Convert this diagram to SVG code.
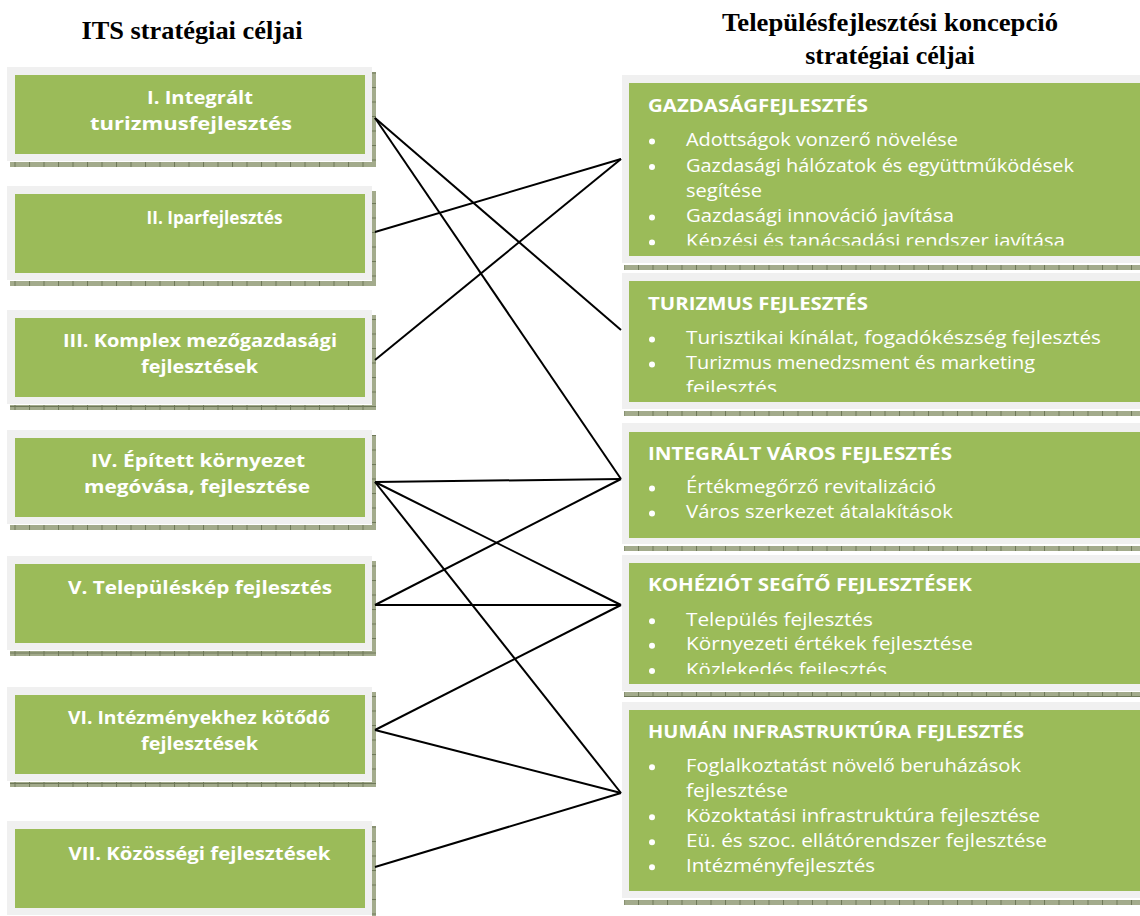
<svg xmlns="http://www.w3.org/2000/svg" width="1140" height="916" viewBox="0 0 1140 916">
<style>
.frame{fill:#f0f0f0}
.green{fill:#9bbb59}
.shadow{fill:url(#tick)}
.hdr{font-family:"Liberation Serif",serif;font-weight:bold;font-size:26px;fill:#000;text-anchor:middle}
.lt{font-family:"Open Sans","DejaVu Sans",sans-serif;font-weight:bold;font-size:18px;fill:#fff;text-anchor:middle}
.rt{font-family:"Open Sans","DejaVu Sans",sans-serif;font-weight:bold;font-size:18px;fill:#fff}
.rb{font-family:"Open Sans","DejaVu Sans",sans-serif;font-size:18px;fill:#fff}
.dot{fill:#fff}
.conn line{stroke:#000;stroke-width:2;fill:none}
</style>
<defs>
<pattern id="tick" patternUnits="userSpaceOnUse" width="14.5" height="14.5">
<rect width="14.5" height="14.5" fill="#a3ab8c"/>
<rect x="0" y="0" width="1" height="14.5" fill="#6e7858"/>
<rect x="0" y="0" width="14.5" height="1" fill="#6e7858"/>
</pattern>
<clipPath id="c1"><rect x="629" y="83" width="520" height="162.5"/></clipPath>
<clipPath id="c2"><rect x="629" y="281" width="520" height="111"/></clipPath>
<clipPath id="c3"><rect x="629" y="432" width="520" height="106"/></clipPath>
<clipPath id="c4"><rect x="629" y="563" width="520" height="111"/></clipPath>
<clipPath id="c5"><rect x="629" y="710" width="520" height="181"/></clipPath>
</defs>
<rect width="1140" height="916" fill="#fff"/>

<text class="hdr" x="192" y="39" textLength="221" lengthAdjust="spacingAndGlyphs">ITS stratégiai céljai</text>
<text class="hdr" x="890" y="31" textLength="336" lengthAdjust="spacingAndGlyphs">Településfejlesztési koncepció</text>
<text class="hdr" x="890" y="64">stratégiai céljai</text>

<!-- Left nodes -->
<g id="its1">
<rect class="shadow" x="10" y="162" width="366" height="5"/><rect class="shadow" x="372" y="72" width="4" height="95"/>
<rect class="frame" x="7" y="67" width="365" height="94"/><rect class="green" x="15" y="75" width="350" height="79"/>
<text class="lt" x="200" y="103.5" textLength="106" lengthAdjust="spacingAndGlyphs">I. Integrált</text>
<text class="lt" x="191" y="129.5" textLength="202" lengthAdjust="spacingAndGlyphs">turizmusfejlesztés</text>
</g>
<g id="its2">
<rect class="shadow" x="10" y="281" width="366" height="5"/><rect class="shadow" x="372" y="191" width="4" height="95"/>
<rect class="frame" x="7" y="186" width="365" height="94"/><rect class="green" x="15" y="194" width="350" height="79"/>
<text class="lt" x="214.5" y="224" textLength="136" lengthAdjust="spacingAndGlyphs">II. Iparfejlesztés</text>
</g>
<g id="its3">
<rect class="shadow" x="10" y="405" width="366" height="5"/><rect class="shadow" x="372" y="315" width="4" height="95"/>
<rect class="frame" x="7" y="310" width="365" height="94"/><rect class="green" x="15" y="318" width="350" height="79"/>
<text class="lt" x="200" y="347" textLength="274" lengthAdjust="spacingAndGlyphs">III. Komplex mezőgazdasági</text>
<text class="lt" x="199.5" y="373" textLength="117" lengthAdjust="spacingAndGlyphs">fejlesztések</text>
</g>
<g id="its4">
<rect class="shadow" x="10" y="525" width="366" height="5"/><rect class="shadow" x="372" y="435" width="4" height="95"/>
<rect class="frame" x="7" y="430" width="365" height="94"/><rect class="green" x="15" y="438" width="350" height="79"/>
<text class="lt" x="198" y="467" textLength="214" lengthAdjust="spacingAndGlyphs">IV. Épített környezet</text>
<text class="lt" x="197" y="493" textLength="226" lengthAdjust="spacingAndGlyphs">megóvása, fejlesztése</text>
</g>
<g id="its5">
<rect class="shadow" x="10" y="651" width="366" height="5"/><rect class="shadow" x="372" y="561" width="4" height="95"/>
<rect class="frame" x="7" y="556" width="365" height="94"/><rect class="green" x="15" y="564" width="350" height="79"/>
<text class="lt" x="200" y="594" textLength="264" lengthAdjust="spacingAndGlyphs">V. Településkép fejlesztés</text>
</g>
<g id="its6">
<rect class="shadow" x="10" y="782" width="366" height="5"/><rect class="shadow" x="372" y="692" width="4" height="95"/>
<rect class="frame" x="7" y="687" width="365" height="94"/><rect class="green" x="15" y="695" width="350" height="79"/>
<text class="lt" x="199" y="724" textLength="262" lengthAdjust="spacingAndGlyphs">VI. Intézményekhez kötődő</text>
<text class="lt" x="199.5" y="750" textLength="117" lengthAdjust="spacingAndGlyphs">fejlesztések</text>
</g>
<g id="its7">
<rect class="shadow" x="372" y="826" width="4" height="95"/>
<rect class="frame" x="7" y="821" width="365" height="94"/><rect class="green" x="15" y="829" width="350" height="79"/>
<text class="lt" x="199.5" y="860" textLength="262" lengthAdjust="spacingAndGlyphs">VII. Közösségi fejlesztések</text>
</g>

<!-- Right nodes -->
<g id="tfk1">
<rect class="shadow" x="624" y="265" width="530" height="5"/>
<rect class="frame" x="622" y="75" width="530" height="188"/><rect class="green" x="629" y="83" width="520" height="173"/>
<text class="rt" x="648" y="111.5" textLength="220" lengthAdjust="spacingAndGlyphs">GAZDASÁGFEJLESZTÉS</text>
<g clip-path="url(#c1)">
<circle class="dot" cx="652" cy="141.5" r="3"/><text class="rb" x="686" y="146" textLength="272" lengthAdjust="spacingAndGlyphs">Adottságok vonzerő növelése</text>
<circle class="dot" cx="652" cy="167" r="3"/><text class="rb" x="686" y="171.5" textLength="388" lengthAdjust="spacingAndGlyphs">Gazdasági hálózatok és együttműködések</text>
<text class="rb" x="686" y="196.7" textLength="76" lengthAdjust="spacingAndGlyphs">segítése</text>
<circle class="dot" cx="652" cy="217.4" r="3"/><text class="rb" x="686" y="221.9" textLength="268" lengthAdjust="spacingAndGlyphs">Gazdasági innováció javítása</text>
<circle class="dot" cx="652" cy="242.6" r="3"/><text class="rb" x="686" y="247.1" textLength="379" lengthAdjust="spacingAndGlyphs">Képzési és tanácsadási rendszer javítása</text>
</g>
</g>
<g id="tfk2">
<rect class="shadow" x="624" y="411" width="530" height="5"/>
<rect class="frame" x="622" y="273" width="530" height="136"/><rect class="green" x="629" y="281" width="520" height="121"/>
<text class="rt" x="648" y="309.5" textLength="220" lengthAdjust="spacingAndGlyphs">TURIZMUS FEJLESZTÉS</text>
<g clip-path="url(#c2)">
<circle class="dot" cx="652" cy="339.5" r="3"/><text class="rb" x="686" y="344" textLength="415" lengthAdjust="spacingAndGlyphs">Turisztikai kínálat, fogadókészség fejlesztés</text>
<circle class="dot" cx="652" cy="364.5" r="3"/><text class="rb" x="686" y="369" textLength="349" lengthAdjust="spacingAndGlyphs">Turizmus menedzsment és marketing</text>
<text class="rb" x="686" y="394" textLength="91" lengthAdjust="spacingAndGlyphs">fejlesztés</text>
</g>
</g>
<g id="tfk3">
<rect class="shadow" x="624" y="546" width="530" height="5"/>
<rect class="frame" x="622" y="423" width="530" height="121"/><rect class="green" x="629" y="432" width="520" height="106"/>
<text class="rt" x="648" y="459.5" textLength="304" lengthAdjust="spacingAndGlyphs">INTEGRÁLT VÁROS FEJLESZTÉS</text>
<g clip-path="url(#c3)">
<circle class="dot" cx="652" cy="488.5" r="3"/><text class="rb" x="686" y="493" textLength="250" lengthAdjust="spacingAndGlyphs">Értékmegőrző revitalizáció</text>
<circle class="dot" cx="652" cy="513.5" r="3"/><text class="rb" x="686" y="518" textLength="267" lengthAdjust="spacingAndGlyphs">Város szerkezet átalakítások</text>
</g>
</g>
<g id="tfk4">
<rect class="shadow" x="624" y="692" width="530" height="5"/>
<rect class="frame" x="622" y="555" width="530" height="136"/><rect class="green" x="629" y="563" width="520" height="121"/>
<text class="rt" x="648" y="591" textLength="324" lengthAdjust="spacingAndGlyphs">KOHÉZIÓT SEGÍTŐ FEJLESZTÉSEK</text>
<g clip-path="url(#c4)">
<circle class="dot" cx="652" cy="621.2" r="3"/><text class="rb" x="686" y="625.7" textLength="187" lengthAdjust="spacingAndGlyphs">Település fejlesztés</text>
<circle class="dot" cx="652" cy="645.7" r="3"/><text class="rb" x="686" y="650.2" textLength="287" lengthAdjust="spacingAndGlyphs">Környezeti értékek fejlesztése</text>
<circle class="dot" cx="652" cy="671" r="3"/><text class="rb" x="686" y="675.5" textLength="201" lengthAdjust="spacingAndGlyphs">Közlekedés fejlesztés</text>
</g>
</g>
<g id="tfk5">
<rect class="shadow" x="624" y="900" width="530" height="5"/>
<rect class="frame" x="622" y="702" width="530" height="196"/><rect class="green" x="629" y="710" width="520" height="181"/>
<text class="rt" x="648" y="737.7" textLength="376" lengthAdjust="spacingAndGlyphs">HUMÁN INFRASTRUKTÚRA FEJLESZTÉS</text>
<g clip-path="url(#c5)">
<circle class="dot" cx="652" cy="767.2" r="3"/><text class="rb" x="686" y="771.7" textLength="335" lengthAdjust="spacingAndGlyphs">Foglalkoztatást növelő beruházások</text>
<text class="rb" x="686" y="796.7" textLength="102" lengthAdjust="spacingAndGlyphs">fejlesztése</text>
<circle class="dot" cx="652" cy="817.2" r="3"/><text class="rb" x="686" y="821.7" textLength="354" lengthAdjust="spacingAndGlyphs">Közoktatási infrastruktúra fejlesztése</text>
<circle class="dot" cx="652" cy="842.2" r="3"/><text class="rb" x="686" y="846.7" textLength="361" lengthAdjust="spacingAndGlyphs">Eü. és szoc. ellátórendszer fejlesztése</text>
<circle class="dot" cx="652" cy="867.2" r="3"/><text class="rb" x="686" y="871.7" textLength="189" lengthAdjust="spacingAndGlyphs">Intézményfejlesztés</text>
</g>
</g>

<!-- Connectors -->
<g id="connectors" class="conn">
<line x1="375" y1="118" x2="621" y2="330"/>
<line x1="375" y1="118" x2="621" y2="479"/>
<line x1="375" y1="232" x2="621" y2="159"/>
<line x1="375" y1="360" x2="621" y2="159"/>
<line x1="375" y1="482" x2="621" y2="479"/>
<line x1="375" y1="482" x2="621" y2="605"/>
<line x1="375" y1="482" x2="621" y2="793"/>
<line x1="375" y1="605" x2="621" y2="479"/>
<line x1="375" y1="605" x2="621" y2="605"/>
<line x1="375" y1="730" x2="621" y2="605"/>
<line x1="375" y1="730" x2="621" y2="793"/>
<line x1="375" y1="867" x2="621" y2="793"/>
</g>
</svg>
